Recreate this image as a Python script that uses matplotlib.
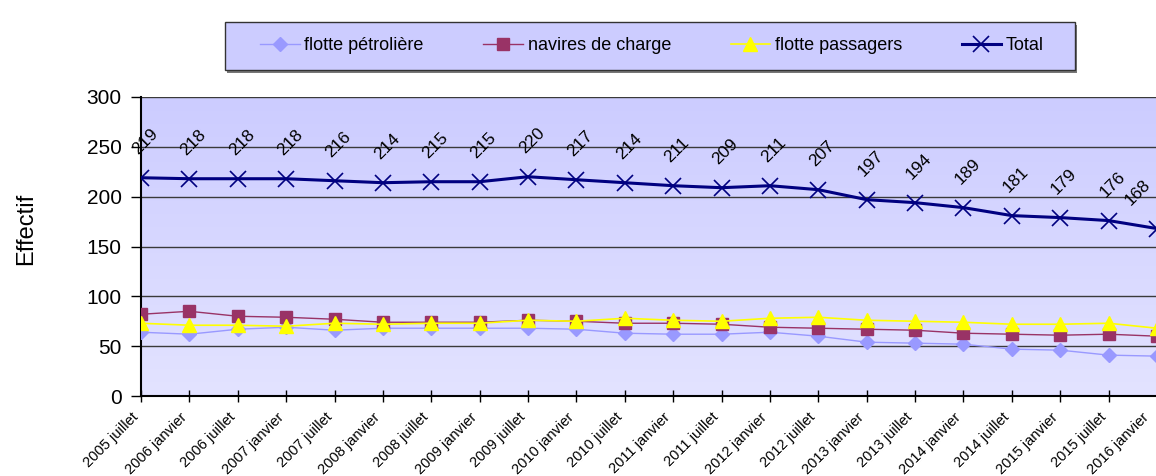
import numpy as np
import matplotlib
matplotlib.use("Agg")
import matplotlib.pyplot as plt
from matplotlib.patches import Rectangle

plt.rcParams['font.family'] = ['Liberation Sans', 'DejaVu Sans']

periodes = ["2005 juillet", "2006 janvier", "2006 juillet", "2007 janvier", "2007 juillet",
            "2008 janvier", "2008 juillet", "2009 janvier", "2009 juillet", "2010 janvier",
            "2010 juillet", "2011 janvier", "2011 juillet", "2012 janvier", "2012 juillet",
            "2013 janvier", "2013 juillet", "2014 janvier", "2014 juillet", "2015 janvier",
            "2015 juillet", "2016 janvier"]
petroliere = [64, 62, 67, 69, 66, 68, 68, 68, 68, 67, 63, 62, 62, 64, 60, 54, 53, 52, 47, 46, 41, 40]
charge = [82, 85, 80, 79, 77, 74, 74, 74, 76, 75, 73, 73, 72, 69, 68, 67, 66, 63, 62, 61, 62, 60]
passagers = [73, 71, 71, 70, 73, 72, 73, 73, 76, 75, 78, 76, 75, 78, 79, 76, 75, 74, 72, 72, 73, 68]
total = [219, 218, 218, 218, 216, 214, 215, 215, 220, 217, 214, 211, 209, 211, 207, 197, 194, 189,
         181, 179, 176, 168]

x = np.arange(len(periodes))

fig = plt.figure(figsize=(11.56, 4.76), dpi=100)
ax = fig.add_axes([141 / 1156, 80 / 476, 1016 / 1156, 299 / 476])

# fond dégradé
grad = np.linspace(0, 1, 256).reshape(-1, 1)
cmap = matplotlib.colors.LinearSegmentedColormap.from_list("bg", ["#CCCCFF", "#E3E3FF"])
ax.imshow(grad, cmap=cmap, aspect="auto", extent=[0, 1, 0, 1], transform=ax.transAxes, zorder=0)

ax.plot(x, petroliere, color="#9999FF", lw=1, marker="D", ms=7, label="flotte pétrolière", zorder=3)
ax.plot(x, charge, color="#993366", lw=1, marker="s", ms=8.5, label="navires de charge", zorder=4)
ax.plot(x, passagers, color="#FFFF00", lw=1.2, marker="^", ms=10, label="flotte passagers", zorder=5)
ax.plot(x, total, color="#000080", lw=2.2, marker="x", ms=11, mew=1.2, label="Total", zorder=6)

for i, v in enumerate(total):
    dx = -19 if i == len(total) - 1 else 4
    ax.annotate(str(v), (x[i], v), xytext=(dx, 36), textcoords="offset pixels",
                ha="center", va="center", rotation=45, fontsize=12.5, zorder=7,
                annotation_clip=False)

ax.set_xlim(0, len(periodes) - 1)
ax.set_ylim(0, 300)
ax.set_yticks(range(0, 301, 50))
ax.set_xticks(x)
ax.set_xticklabels([])
# étiquettes des périodes, inclinées à 45°
for i, p in enumerate(periodes):
    dx = -7 if i == len(periodes) - 1 else -2
    ax.annotate(p, (x[i], 0), xytext=(dx, -22), textcoords="offset pixels",
                ha="right", va="baseline", rotation=45, rotation_mode="anchor",
                fontsize=10.5, annotation_clip=False)
ax.tick_params(axis="y", labelsize=15, length=7, width=1, pad=7)
ax.tick_params(axis="x", length=8, direction="inout", width=1)
ax.yaxis.grid(True, color="#3a3a3a", lw=1)
ax.set_axisbelow(True)
for s in ["top", "right"]:
    ax.spines[s].set_visible(False)
ax.spines["left"].set_linewidth(1.5)
ax.spines["bottom"].set_linewidth(1.5)

fig.text(26 / 1156, 1 - 229 / 476, "Effectif", rotation=90, ha="center", va="center", fontsize=17)

# cadre de la légende
W, H = 1156, 476
fig.patches.append(Rectangle((227 / W, 1 - 73 / H), 850 / W, 48 / H, transform=fig.transFigure,
                             facecolor="#777777", edgecolor="none", zorder=1))
fig.patches.append(Rectangle((225 / W, 1 - 70 / H), 850 / W, 48 / H, transform=fig.transFigure,
                             facecolor="#CCCCFF", edgecolor="#333333", lw=1, zorder=2))

leg = fig.legend(loc="center", bbox_to_anchor=(652 / W, 1 - 46 / H), ncol=4, fontsize=13,
                 frameon=False, handlelength=2.2, handletextpad=0.25, columnspacing=3.3,
                 markerscale=1.0)

fig.savefig("out.png", dpi=100)
